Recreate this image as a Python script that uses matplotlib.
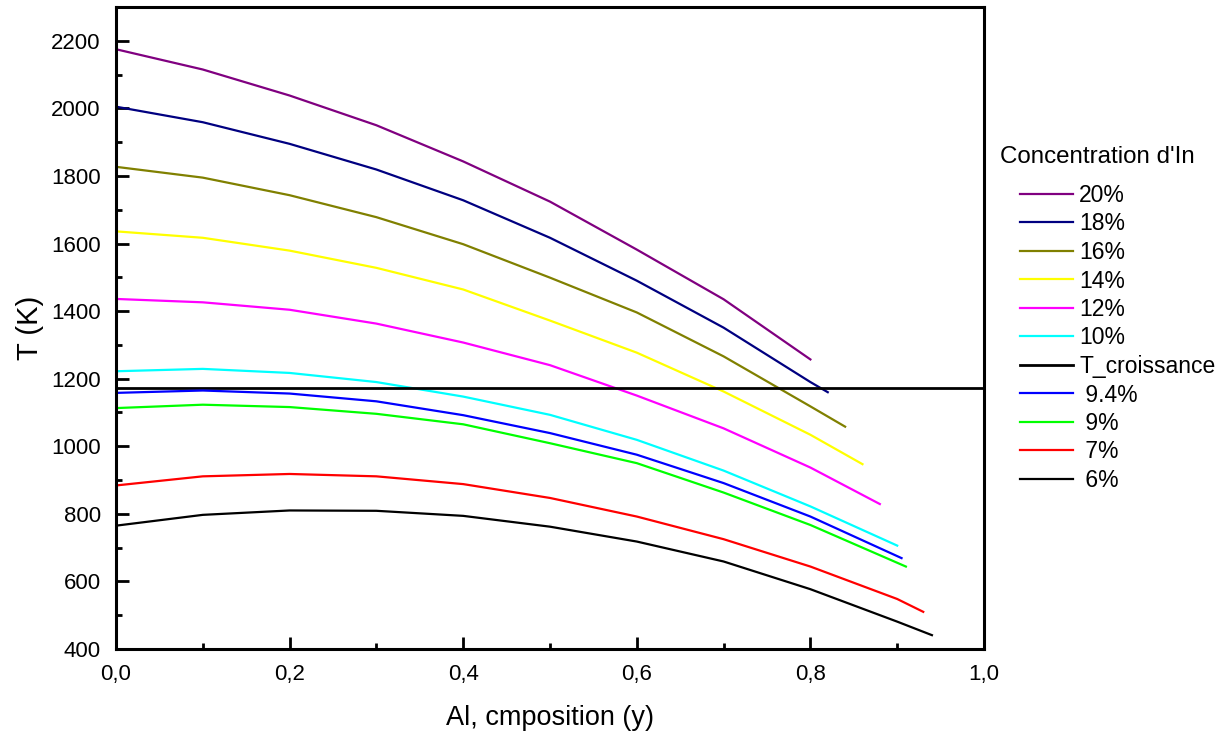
import matplotlib
matplotlib.use("Agg")
import matplotlib.pyplot as plt
from matplotlib.ticker import MultipleLocator, FuncFormatter

plt.rcParams['font.family'] = ['Liberation Sans', 'DejaVu Sans']

labels = ["20%", "18%", "16%", "14%", "12%", "10%", " 9.4%", " 9%", " 7%", " 6%"]
colors = ["#800080", "#000080", "#808000", "#FFFF00", "#FF00FF", "#00FFFF",
          "#0000FF", "#00FF00", "#FF0000", "#000000"]

base_x = [0.0, 0.1, 0.2, 0.3, 0.4, 0.5, 0.6, 0.7, 0.8]
x_20 = base_x
t_20 = [2175, 2115, 2038, 1950, 1843, 1724, 1582, 1435, 1257]
x_18 = base_x + [0.82]
t_18 = [2005, 1959, 1895, 1819, 1728, 1617, 1490, 1351, 1190, 1160]
x_16 = base_x + [0.84]
t_16 = [1827, 1795, 1743, 1678, 1598, 1499, 1396, 1266, 1118, 1058]
x_14 = base_x + [0.86]
t_14 = [1636, 1617, 1579, 1528, 1464, 1372, 1277, 1162, 1034, 947]
x_12 = base_x + [0.88]
t_12 = [1436, 1426, 1404, 1363, 1307, 1240, 1150, 1053, 937, 829]
x_10 = base_x + [0.9]
t_10 = [1222, 1229, 1217, 1190, 1147, 1093, 1019, 928, 822, 706]
x_94 = base_x + [0.905]
t_94 = [1158, 1165, 1156, 1133, 1092, 1039, 975, 891, 792, 669]
x_9 = base_x + [0.91]
t_9 = [1113, 1123, 1116, 1096, 1065, 1009, 950, 863, 767, 644]
x_7 = base_x + [0.9, 0.93]
t_7 = [884, 911, 918, 911, 888, 847, 792, 725, 644, 548, 510]
x_6 = base_x + [0.9, 0.94]
t_6 = [765, 797, 810, 809, 794, 762, 718, 659, 577, 481, 441]

t_croissance = 1173

xs = [x_20, x_18, x_16, x_14, x_12, x_10, x_94, x_9, x_7, x_6]
ts = [t_20, t_18, t_16, t_14, t_12, t_10, t_94, t_9, t_7, t_6]

W, H = 1225, 738
fig = plt.figure(figsize=(W / 100, H / 100), dpi=100)
ax = fig.add_axes([116 / W, 1 - 649 / H, (984 - 116) / W, (649 - 7) / H])

handles = []
for i in range(6):
    h, = ax.plot(xs[i], ts[i], color=colors[i], lw=1.6, label=labels[i])
    handles.append(h)
hline = ax.axhline(t_croissance, color="black", lw=2.0, label="T_croissance")
handles.append(hline)
for i in range(6, 10):
    h, = ax.plot(xs[i], ts[i], color=colors[i], lw=1.6, label=labels[i])
    handles.append(h)

ax.set_xlim(0, 1.0)
ax.set_ylim(400, 2300)
ax.xaxis.set_major_locator(MultipleLocator(0.2))
ax.xaxis.set_minor_locator(MultipleLocator(0.1))
ax.yaxis.set_major_locator(MultipleLocator(200))
ax.yaxis.set_minor_locator(MultipleLocator(100))
ax.xaxis.set_major_formatter(FuncFormatter(lambda v, p: f"{v:.1f}".replace(".", ",")))
ax.set_yticks([400, 600, 800, 1000, 1200, 1400, 1600, 1800, 2000, 2200])

for s in ax.spines.values():
    s.set_linewidth(2.2)
ax.tick_params(which="major", direction="in", length=9, width=2, labelsize=16,
               top=False, right=False, pad=11)
ax.tick_params(which="minor", direction="in", length=4.2, width=2, top=False, right=False)

ax.set_xlabel("Al, cmposition (y)", fontsize=19.5)
ax.set_ylabel("T (K)", fontsize=21)
ax.xaxis.set_label_coords(0.5, -0.087)
ax.yaxis.set_label_coords(-0.083, 0.5)

fig.text(1000 / W, 1 - 157 / H, "Concentration d'In", fontsize=17.4,
         ha="left", va="center")
leg = fig.legend(handles=handles, loc="upper left",
                 bbox_to_anchor=(1020 / W, 1 - 184 / H), frameon=False,
                 fontsize=16.5, handlelength=2.3, handletextpad=0.28,
                 labelspacing=0.24, borderpad=0, borderaxespad=0)

fig.savefig("out.png", dpi=100)
